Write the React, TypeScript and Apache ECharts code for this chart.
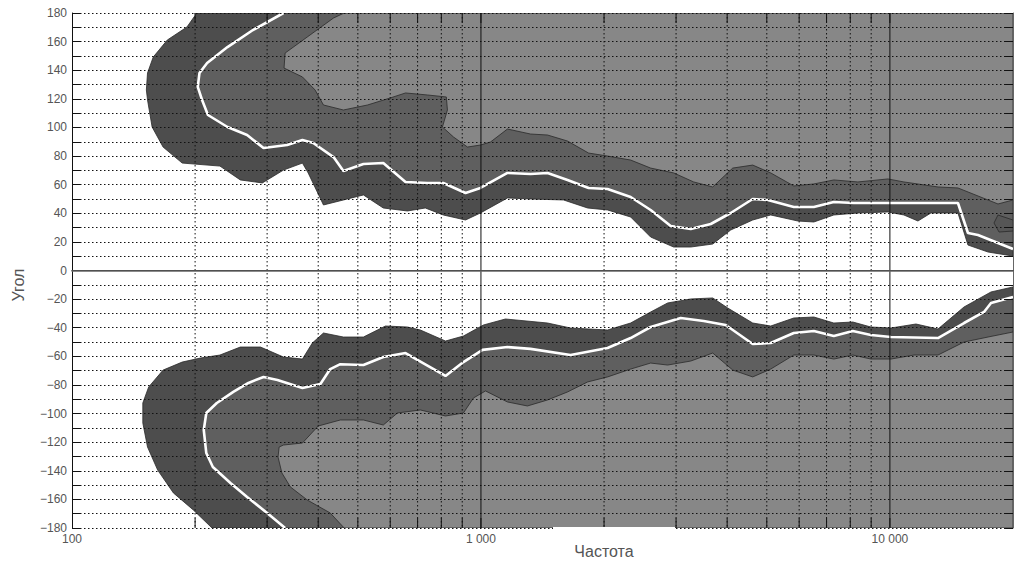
import React, { useEffect, useRef } from 'react';
import * as echarts from 'echarts';

const X_MIN = 100;
const X_MAX = 20000;
const Y_MIN = -180;
const Y_MAX = 180;

const xLabelValues = [100, 1000, 10000];
const gridFreqs = [200, 300, 400, 500, 600, 700, 800, 900, 1000, 2000, 3000, 4000, 5000, 6000, 7000, 8000, 9000, 10000];
const solidFreqs = [1000, 10000];

// Upper half contours [frequency, angle]
const upperOuter = [[202,180],[191,170.2],[171,161.1],[158,149.2],[153,138.1],[152,126.2],[153,119.2],[157,100.3],[167,86.3],[186,75.1],[230,73.0],[258,63.3],[292,61.2],[329,70.2],[366,75.1],[378,68.2],[412,45.8],[516,52.8],[577,43.7],[661,41.6],[731,43.7],[809,38.8],[917,35.3],[997,40.2],[1161,50.7],[1322,50.0],[1592,49.3],[1823,43.7],[2040,42.3],[2323,37.4],[2600,23.4],[2960,16.4],[3258,16.4],[3688,18.5],[4081,28.3],[4619,35.3],[5112,38.8],[5955,34.6],[6517,33.9],[7292,38.8],[8351,40.2],[9888,40.9],[10820,38.8],[11710,34.6],[12600,40.2],[14670,40.2],[15520,17.8],[17380,12.9],[20000,10.1]];
const upperWhite = [[329,180],[277,168.1],[240,156.2],[214,145.0],[205,138.1],[203,128.3],[208,119.2],[215,108.7],[240,100.3],[268,94.7],[294,85.6],[336,87.7],[366,91.2],[389,89.1],[436,79.3],[461,69.6],[516,74.4],[577,75.1],[654,61.9],[740,61.2],[809,61.2],[917,54.2],[997,57.7],[1161,68.2],[1322,67.5],[1455,68.2],[1628,63.3],[1833,57.7],[2040,57.0],[2323,51.4],[2600,42.3],[2911,31.1],[3258,29.0],[3647,32.5],[4081,40.2],[4619,50.0],[5028,49.3],[5821,44.4],[6517,44.4],[7292,47.9],[8163,47.2],[9888,47.2],[12110,47.2],[14670,47.2],[15520,26.2],[16420,24.8],[20000,15.0]];
const upperInner = [[463,180],[436,176.5],[376,163.2],[332,152.0],[330,141.5],[366,135.3],[393,126.2],[412,115.7],[461,112.2],[528,115.7],[600,120.6],[654,124.1],[740,122.7],[823,121.3],[828,112.2],[805,100.3],[857,93.3],[927,86.3],[997,87.7],[1055,89.8],[1161,98.9],[1322,95.4],[1455,94.7],[1628,90.5],[1833,82.1],[2040,80.0],[2323,77.2],[2600,71.6],[2960,68.2],[3313,61.9],[3688,58.4],[4128,71.6],[4619,73.7],[5112,68.2],[5821,59.1],[6517,60.5],[7292,63.3],[8351,61.9],[9888,64.0],[10820,61.9],[13110,58.4],[14670,57.7],[18380,46.5],[20000,49.3]];
const upperIsland = [[17970,33.2],[18380,38.8],[20000,35.3],[20000,27.6],[18490,26.9]];

// Lower half contours
const lowerOuter = [[220,-180],[198,-167.4],[177,-155.5],[162,-139.5],[153,-123.4],[149,-106.6],[149,-92.6],[154,-81.4],[167,-69.6],[186,-64.0],[206,-61.2],[230,-59.1],[258,-53.5],[289,-53.5],[329,-60.5],[366,-61.9],[387,-50.7],[412,-43.7],[461,-46.5],[516,-46.5],[584,-38.8],[661,-39.5],[711,-41.6],[819,-49.3],[906,-45.8],[1014,-38.1],[1148,-33.9],[1455,-36.7],[1656,-40.2],[2040,-41.6],[2323,-36.7],[2600,-29.0],[2861,-22.7],[3258,-19.9],[3688,-19.2],[4012,-26.2],[4619,-36.7],[5112,-38.8],[5821,-33.2],[6517,-32.5],[7292,-36.7],[8117,-36.0],[8985,-39.5],[10060,-40.2],[11580,-37.4],[13110,-40.9],[15180,-25.5],[17670,-15.0],[20000,-11.5]];
const lowerWhite = [[332,-180],[300,-169.5],[268,-158.3],[244,-148.5],[221,-137.4],[213,-127.6],[210,-111.5],[213,-99.6],[226,-92.6],[248,-84.9],[270,-78.6],[294,-74.4],[318,-76.5],[366,-82.1],[405,-79.3],[428,-68.9],[453,-65.5],[516,-66.1],[577,-60.5],[654,-57.7],[819,-73.7],[906,-64.0],[1009,-55.5],[1161,-53.5],[1322,-54.8],[1656,-59.1],[2040,-54.2],[2323,-47.2],[2600,-39.5],[3079,-33.2],[3505,-35.3],[3967,-38.1],[4619,-51.4],[5112,-50.7],[5821,-43.7],[6517,-42.3],[7292,-45.8],[8117,-42.3],[8985,-45.1],[10060,-46.5],[13110,-47.2],[15180,-36.7],[16990,-29.0],[17670,-22.7],[20000,-18.5]];
const lowerInner = [[463,-180],[428,-169.5],[376,-160.4],[342,-151.3],[326,-141.5],[319,-130.4],[321,-123.4],[329,-122.0],[366,-120.6],[400,-108.7],[453,-104.5],[516,-104.5],[577,-108.0],[625,-99.6],[711,-97.5],[819,-101.7],[906,-99.6],[959,-89.1],[1026,-84.2],[1161,-91.9],[1299,-94.7],[1455,-90.5],[1628,-84.9],[1823,-77.9],[2040,-74.4],[2323,-68.9],[2600,-64.7],[2861,-66.1],[3258,-63.3],[3688,-57.7],[4128,-69.6],[4619,-74.4],[5112,-68.9],[5821,-59.1],[6517,-59.1],[7292,-61.9],[8117,-59.1],[8985,-61.9],[10060,-61.9],[11450,-59.1],[13110,-59.1],[15180,-50.0],[17380,-46.5],[20000,-43.0]];

const DARK = '#4d4d4d';
const MID = '#5f5f5f';
const LIGHT = '#878787';
const ISLAND = '#565656';
const EDGE = '#2a2a2a';
const GRIDC = '#111111';
const FONT = "'Liberation Sans', Arial, Helvetica, sans-serif";

function polygonSeries(pts: number[][], closeY: number | null, fill: string, z: number) {
  const poly = closeY === null ? pts : [...pts, [X_MAX, closeY]];
  return {
    type: 'custom',
    coordinateSystem: 'cartesian2d',
    xAxisIndex: 0,
    yAxisIndex: 0,
    data: poly,
    encode: { x: 0, y: 1 },
    z,
    silent: true,
    clip: true,
    renderItem: (params: any, api: any) => {
      if (params.dataIndex !== 0) return null;
      const points = poly.map((p) => api.coord(p));
      return {
        type: 'polygon',
        shape: { points },
        style: { fill, stroke: EDGE, lineWidth: 0.8 },
      };
    },
  };
}

function whiteLine(pts: number[][]) {
  return {
    type: 'line',
    data: pts,
    xAxisIndex: 0,
    yAxisIndex: 0,
    showSymbol: false,
    symbol: 'none',
    silent: true,
    z: 3,
    lineStyle: { color: '#ffffff', width: 2.6 },
  };
}

export default function App() {
  const ref = useRef<HTMLDivElement>(null);
  useEffect(() => {
    if (!ref.current) return;
    const chart = echarts.init(ref.current, null, { renderer: 'svg' });
    const dash = [1.5, 2.5];
    const option: any = {
      animation: false,
      backgroundColor: '#ffffff',
      grid: { left: 72, right: 6, top: 13, bottom: 35, containLabel: false, outerBoundsMode: 'none' },
      xAxis: [
        {
          type: 'log',
          logBase: 10,
          min: X_MIN,
          max: X_MAX,
          position: 'bottom',
          z: 7,
          axisLine: { show: true, lineStyle: { color: '#111', width: 1 } },
          axisTick: { show: false },
          minorTick: { show: false },
          splitLine: { show: false },
          axisLabel: {
            color: '#555',
            fontSize: 12,
            fontFamily: FONT,
            margin: 5,
            formatter: (v: number) => {
              const r = Math.round(v);
              if (!xLabelValues.includes(r)) return '';
              return String(r).replace(/\B(?=(\d{3})+(?!\d))/g, ' ');
            },
          },
        },
        {
          type: 'log',
          logBase: 10,
          min: X_MIN,
          max: X_MAX,
          position: 'top',
          z: 7,
          axisLine: { show: true, lineStyle: { color: '#666', width: 1.5 } },
          axisTick: { show: false },
          axisLabel: { show: false },
          splitLine: { show: false },
        },
      ],
      yAxis: [
        {
          type: 'value',
          min: Y_MIN,
          max: Y_MAX,
          interval: 20,
          position: 'left',
          z: 5,
          axisLine: { show: true, lineStyle: { color: '#111', width: 1 } },
          axisTick: { show: true, inside: true, length: 9, lineStyle: { color: '#111' } },
          minorTick: { show: true, splitNumber: 2, length: 9, lineStyle: { color: '#111' } },
          splitLine: { show: true, lineStyle: { color: GRIDC, width: 1, type: dash } },
          minorSplitLine: { show: true, lineStyle: { color: GRIDC, width: 1, type: dash } },
          axisLabel: {
            color: '#555',
            fontSize: 12,
            fontFamily: FONT,
            margin: 5,
            formatter: (v: number) => (v < 0 ? '\u2212' + Math.abs(v) : String(v)),
          },
        },
        {
          type: 'value',
          min: Y_MIN,
          max: Y_MAX,
          interval: 20,
          position: 'right',
          z: 5,
          axisLine: { show: true, lineStyle: { color: '#666', width: 1 } },
          axisTick: { show: true, inside: true, length: 9, lineStyle: { color: '#111' } },
          minorTick: { show: true, splitNumber: 2, length: 9, lineStyle: { color: '#111' } },
          splitLine: { show: false },
          axisLabel: { show: false },
        },
      ],
      series: [
        polygonSeries(upperOuter, Y_MAX, DARK, 1),
        polygonSeries(upperWhite, Y_MAX, MID, 1),
        polygonSeries(upperInner, Y_MAX, LIGHT, 1),
        polygonSeries(upperIsland, null, ISLAND, 1),
        polygonSeries(lowerOuter, Y_MIN, DARK, 1),
        polygonSeries(lowerWhite, Y_MIN, MID, 1),
        polygonSeries(lowerInner, Y_MIN, LIGHT, 1),
        whiteLine(upperWhite),
        whiteLine(lowerWhite),
        {
          type: 'custom',
          coordinateSystem: 'cartesian2d',
          xAxisIndex: 0,
          yAxisIndex: 0,
          data: gridFreqs.map((f) => [f, 0]),
          encode: { x: 0, y: 1 },
          z: 6,
          silent: true,
          renderItem: (params: any, api: any) => {
            const f = api.value(0);
            const top = api.coord([f, Y_MAX]);
            const bot = api.coord([f, Y_MIN]);
            const solid = solidFreqs.includes(Math.round(f));
            return {
              type: 'group',
              children: [
                {
                  type: 'line',
                  shape: { x1: top[0], y1: top[1], x2: bot[0], y2: bot[1] },
                  style: { stroke: GRIDC, lineWidth: 1, lineDash: solid ? null : dash },
                },
                {
                  type: 'line',
                  shape: { x1: top[0], y1: top[1], x2: top[0], y2: top[1] + 10 },
                  style: { stroke: '#111', lineWidth: 1 },
                },
                {
                  type: 'line',
                  shape: { x1: bot[0], y1: bot[1], x2: bot[0], y2: bot[1] - 10 },
                  style: { stroke: '#111', lineWidth: 1 },
                },
              ],
            };
          },
        },
        {
          type: 'line',
          data: [[X_MIN, 0], [X_MAX, 0]],
          xAxisIndex: 0,
          yAxisIndex: 0,
          showSymbol: false,
          symbol: 'none',
          silent: true,
          z: 6,
          lineStyle: { color: '#111', width: 1 },
        },
      ],
      graphic: [
        {
          type: 'rect',
          shape: { x: 553, y: 527, width: 122, height: 5 },
          style: { fill: '#ffffff' },
          z: 100,
          silent: true,
        },
        {
          type: 'text',
          x: 604,
          y: 551,
          z: 100,
          style: {
            text: 'Частота',
            fill: '#555',
            font: `16px ${FONT}`,
            align: 'center',
            verticalAlign: 'middle',
          },
        },
        {
          type: 'text',
          x: 18,
          y: 285,
          rotation: Math.PI / 2,
          z: 100,
          style: {
            text: 'Угол',
            fill: '#555',
            font: `16px ${FONT}`,
            align: 'center',
            verticalAlign: 'middle',
          },
        },
      ],
    };
    chart.setOption(option);
    return () => chart.dispose();
  }, []);
  return (
    <div
      ref={ref}
      style={{ position: 'fixed', left: 0, top: 0, width: 1019, height: 563 }}
    />
  );
}
